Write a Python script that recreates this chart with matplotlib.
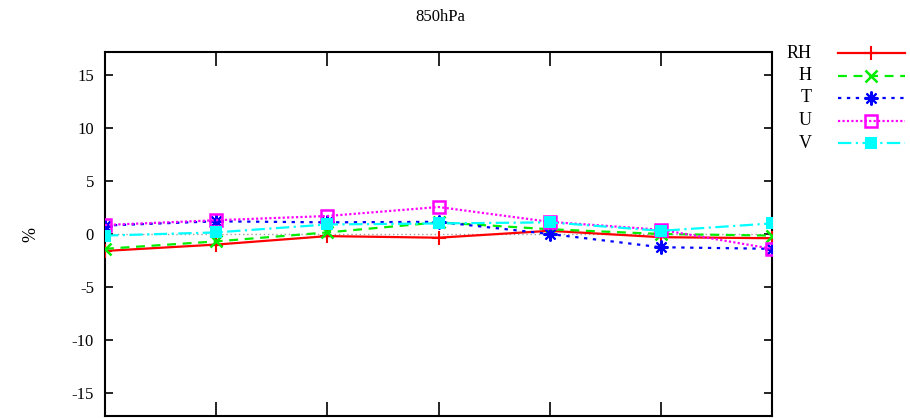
import matplotlib
matplotlib.use("Agg")
import matplotlib.pyplot as plt
from matplotlib.lines import Line2D

# data
x = [0, 1, 2, 3, 4, 5, 6]
rh = [-1.6, -1.0, -0.2, -0.35, 0.3, -0.3, -0.4]
h = [-1.4, -0.7, 0.15, 1.1, 0.45, 0.0, -0.15]
t = [0.8, 1.2, 1.1, 1.15, 0.0, -1.25, -1.4]
u = [0.85, 1.3, 1.7, 2.55, 1.15, 0.4, -1.4]
v = [-0.15, 0.15, 0.9, 1.0, 1.1, 0.3, 1.0]
names = ["RH", "H", "T", "U", "V"]
title = "850hPa"
yticks = [-15, -10, -5, 0, 5, 10, 15]

plt.rcParams["font.family"] = ["Liberation Serif", "DejaVu Serif"]
plt.rcParams["font.size"] = 12
plt.rcParams["axes.unicode_minus"] = False

styles = [
    dict(color="#ff0000", ls="-", marker="+", ms=10, mew=1.5),
    dict(color="#00ee00", ls=(0, (4, 3)), marker="x", ms=8, mew=1.8),
    dict(color="#0000ff", ls=(0, (1.5, 2.5)), marker=(8, 2, 0), ms=10, mew=1.5),
    dict(color="#ff00ff", ls=(0, (1, 1)), marker="s", ms=9, mfc="none", mew=1.8),
    dict(color="#00ffff", ls=(0, (6, 2, 1, 2)), marker="s", ms=9, mew=0),
]

fig = plt.figure(figsize=(9.1, 4.18), dpi=100)
ax = fig.add_axes([105 / 910, 1 - 416 / 418, (772 - 105) / 910, (416 - 52) / 418])

ax.axhline(0, color="#a0a0a0", ls=(0, (1, 2)), lw=1, zorder=1)
for name, vals, st in zip(names, [rh, h, t, u, v], styles):
    ax.plot(x, vals, lw=1.6, label=name, zorder=3, **st)

ax.set_xlim(0, 6)
ax.set_ylim(-17.2, 17.2)
ax.set_yticks(yticks)
ax.set_xticks(x)
ax.set_xticklabels([])
ax.tick_params(axis="y", direction="in", length=6, width=1.2, right=True, pad=8)
ax.tick_params(axis="x", direction="in", length=10, width=1.2, top=True)
for sp in ax.spines.values():
    sp.set_linewidth(1.5)
ax.set_ylabel("%", fontsize=13)
ax.yaxis.set_label_coords(-0.098, 0.5)
fig.text(440 / 910, 1 - 17 / 418, title, ha="center", va="center", fontsize=12)

# legend drawn by hand at the right
for i, (name, st) in enumerate(zip(names, styles)):
    yy = 1 - (53 + 22.5 * i) / 418
    fig.text(812 / 910, yy, name, ha="right", va="center", fontsize=13)
    fig.add_artist(Line2D([838 / 910, 871 / 910, 905 / 910], [yy, yy, yy],
                          transform=fig.transFigure, lw=1.6, markevery=[1], **st))

fig.savefig("out.png", dpi=100)
